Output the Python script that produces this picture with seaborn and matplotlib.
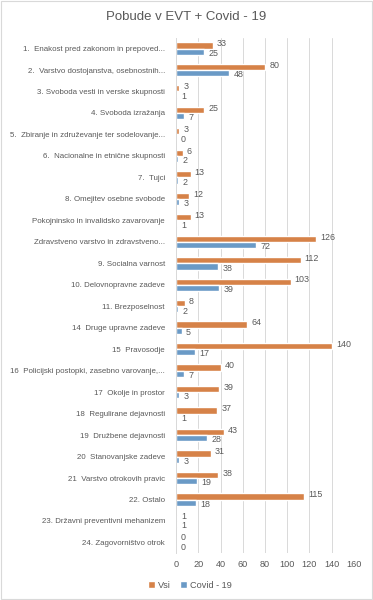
import pandas as pd
import matplotlib.pyplot as plt
import seaborn as sns

# Podatki
kategorije = [
    "1.  Enakost pred zakonom in prepoved...",
    "2.  Varstvo dostojanstva, osebnostnih...",
    "3. Svoboda vesti in verske skupnosti",
    "4. Svoboda izražanja",
    "5.  Zbiranje in združevanje ter sodelovanje...",
    "6.  Nacionalne in etnične skupnosti",
    "7.  Tujci",
    "8. Omejitev osebne svobode",
    "Pokojninsko in invalidsko zavarovanje",
    "Zdravstveno varstvo in zdravstveno...",
    "9. Socialna varnost",
    "10. Delovnopravne zadeve",
    "11. Brezposelnost",
    "14  Druge upravne zadeve",
    "15  Pravosodje",
    "16  Policijski postopki, zasebno varovanje,...",
    "17  Okolje in prostor",
    "18  Regulirane dejavnosti",
    "19  Družbene dejavnosti",
    "20  Stanovanjske zadeve",
    "21  Varstvo otrokovih pravic",
    "22. Ostalo",
    "23. Državni preventivni mehanizem",
    "24. Zagovorništvo otrok",
]
vsi = [33, 80, 3, 25, 3, 6, 13, 12, 13, 126, 112, 103, 8, 64, 140, 40, 39, 37, 43, 31, 38, 115, 1, 0]
covid = [25, 48, 1, 7, 0, 2, 2, 3, 1, 72, 38, 39, 2, 5, 17, 7, 3, 1, 28, 3, 19, 18, 1, 0]
serije = ["Vsi", "Covid - 19"]
x_ticks = [0, 20, 40, 60, 80, 100, 120, 140, 160]

df = pd.DataFrame({
    "kategorija": kategorije * 2,
    "vrednost": vsi + covid,
    "serija": [serije[0]] * len(vsi) + [serije[1]] * len(covid),
})

sns.set_style("white")
plt.rcParams["font.family"] = ["Liberation Sans", "DejaVu Sans"]
siva = "#595959"

fig = plt.figure(figsize=(3.73, 6.0), dpi=100)
ax = fig.add_axes([0.472, 0.078, 0.477, 0.859])

sns.barplot(data=df, x="vrednost", y="kategorija", hue="serija", orient="h",
            palette=["#ED7D31", "#5B9BD5"], width=0.58, ax=ax, legend=True)

# oznake vrednosti: Vsi malo višje, Covid malo nižje (kot v Excelu)
for cont, dy in zip(ax.containers, [1.2, -1.2]):
    for t in ax.bar_label(cont, padding=3, fontsize=6.4, color=siva):
        t.xyann = (t.xyann[0], dy)

ax.set_xlim(0, 160)
ax.set_xticks(x_ticks)
ax.tick_params(axis="x", labelsize=6.6, colors=siva, length=0, pad=5)
ax.tick_params(axis="y", labelsize=5.7, colors=siva, length=0, pad=8)
ax.set_xlabel("")
ax.set_ylabel("")
ax.grid(axis="x", color="#D9D9D9", linewidth=0.7)
ax.set_axisbelow(True)
for s in ["top", "right", "bottom"]:
    ax.spines[s].set_visible(False)
ax.spines["left"].set_color("#D9D9D9")
ax.spines["left"].set_linewidth(0.7)

fig.text(0.5, 0.972, "Pobude v EVT + Covid - 19", ha="center", va="center",
         fontsize=9.5, color=siva)

h, l = ax.get_legend_handles_labels()
ax.legend_.remove()
fig.legend(h, l, loc="center", bbox_to_anchor=(0.51, 0.025), ncol=2, frameon=False,
           fontsize=6.6, labelcolor=siva, handlelength=0.7, handleheight=0.7,
           handletextpad=0.4, columnspacing=1.0)

# okvir slike
fig.patches.append(plt.Rectangle((0.002, 0.002), 0.996, 0.996, transform=fig.transFigure,
                                 fill=False, edgecolor="#D9D9D9", linewidth=0.8))

fig.savefig("out.png", dpi=100)
